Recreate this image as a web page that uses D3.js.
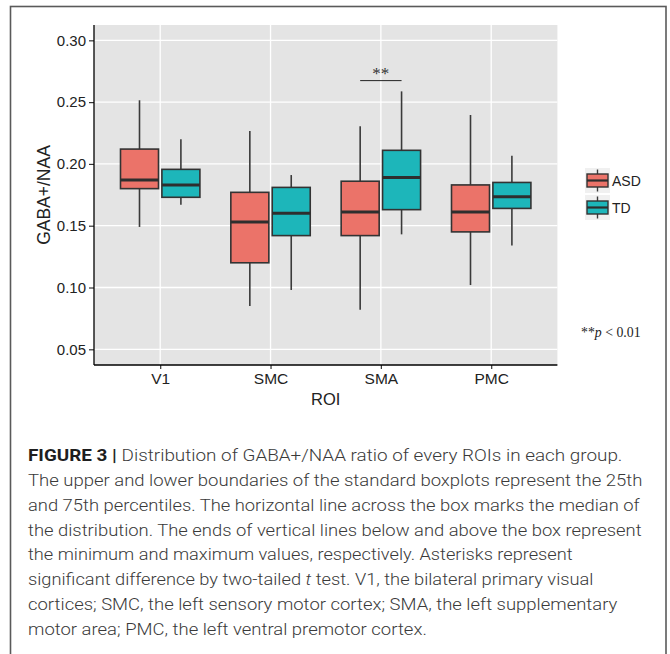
<!DOCTYPE html>
<html>
<head>
<meta charset="utf-8">
<script src="https://cdn.jsdelivr.net/npm/d3@7"></script>
<style>
  html, body { margin: 0; padding: 0; background: #fff; }
  svg { display: block; }
</style>
</head>
<body>
<svg id="chart" width="670" height="654"></svg>
<script>
// ---- data ----
const categories = ["V1", "SMC", "SMA", "PMC"];
const groups = ["ASD", "TD"];
const groupColors = ["#EB7369", "#1DB6BA"];
const asdMin = [0.149, 0.085, 0.082, 0.102];
const asdQ1  = [0.180, 0.120, 0.142, 0.145];
const asdMed = [0.187, 0.153, 0.161, 0.161];
const asdQ3  = [0.212, 0.177, 0.186, 0.183];
const asdMax = [0.2515, 0.2266, 0.2304, 0.2396];
const tdMin  = [0.167, 0.098, 0.143, 0.134];
const tdQ1   = [0.173, 0.142, 0.163, 0.164];
const tdMed  = [0.183, 0.160, 0.189, 0.1735];
const tdQ3   = [0.1956, 0.181, 0.211, 0.185];
const tdMax  = [0.220, 0.191, 0.2587, 0.2067];
const yTicks = [0.05, 0.10, 0.15, 0.20, 0.25, 0.30];
const yTickLabels = ["0.05", "0.10", "0.15", "0.20", "0.25", "0.30"];
const sigCategory = "SMA";
const sigLevel = 0.2674;
const sigLabel = "**";
const yTitle = "GABA+/NAA";
const xTitle = "ROI";
const captionLines = [
  [["FIGURE 3 | ", "b"], ["Distribution of GABA+/NAA ratio of every ROIs in each group.", ""]],
  [["The upper and lower boundaries of the standard boxplots represent the 25th", ""]],
  [["and 75th percentiles. The horizontal line across the box marks the median of", ""]],
  [["the distribution. The ends of vertical lines below and above the box represent", ""]],
  [["the minimum and maximum values, respectively. Asterisks represent", ""]],
  [["significant difference by two-tailed ", ""], ["t", "i"], [" test. V1, the bilateral primary visual", ""]],
  [["cortices; SMC, the left sensory motor cortex; SMA, the left supplementary", ""]],
  [["motor area; PMC, the left ventral premotor cortex.", ""]]
];
const captionWidths = [595, 615, 612, 614, 545, 566, 590, 399];

// ---- build records ----
const boxes = [];
categories.forEach((c, i) => {
  boxes.push({cat: c, grp: "ASD", min: asdMin[i], q1: asdQ1[i], med: asdMed[i], q3: asdQ3[i], max: asdMax[i]});
  boxes.push({cat: c, grp: "TD", min: tdMin[i], q1: tdQ1[i], med: tdMed[i], q3: tdQ3[i], max: tdMax[i]});
});

const svg = d3.select("#chart");
const sans = "Liberation Sans, Arial, sans-serif";

// outer frame
svg.append("rect").attr("x", 10.5).attr("y", 6.5).attr("width", 655.5).attr("height", 700)
  .attr("fill", "#fff").attr("stroke", "#5a5a5a").attr("stroke-width", 1.6);

const panel = {left: 94, right: 557.4, top: 25, bottom: 365};

const y = d3.scaleLinear().domain([0.0373, 0.3124]).range([panel.bottom, panel.top]);
const x = d3.scalePoint().domain(categories).range([panel.left, panel.right]).padding(0.6);
const xSub = d3.scaleBand().domain(groups).range([-39.7, 39.7]).paddingInner(0.082);
const color = d3.scaleOrdinal().domain(groups).range(groupColors);

// panel background
svg.append("rect").attr("x", panel.left).attr("y", panel.top)
  .attr("width", panel.right - panel.left).attr("height", panel.bottom - panel.top)
  .attr("fill", "#E4E4E4");

// grid
const g = svg.append("g");
g.selectAll("line.hg").data(yTicks).join("line")
  .attr("x1", panel.left).attr("x2", panel.right)
  .attr("y1", d => y(d)).attr("y2", d => y(d))
  .attr("stroke", "#fff").attr("stroke-width", 1.3);
g.selectAll("line.vg").data(categories).join("line")
  .attr("y1", panel.top).attr("y2", panel.bottom)
  .attr("x1", d => x(d)).attr("x2", d => x(d))
  .attr("stroke", "#fff").attr("stroke-width", 1.3);

// boxes
const bw = xSub.bandwidth();
const bg = svg.append("g").selectAll("g").data(boxes).join("g")
  .attr("transform", d => `translate(${x(d.cat) + xSub(d.grp)},0)`);
bg.append("line").attr("x1", bw / 2).attr("x2", bw / 2)
  .attr("y1", d => y(d.max)).attr("y2", d => y(d.q3))
  .attr("stroke", "#3a3a3a").attr("stroke-width", 1.6);
bg.append("line").attr("x1", bw / 2).attr("x2", bw / 2)
  .attr("y1", d => y(d.q1)).attr("y2", d => y(d.min))
  .attr("stroke", "#3a3a3a").attr("stroke-width", 1.6);
bg.append("rect").attr("x", 0).attr("width", bw)
  .attr("y", d => y(d.q3)).attr("height", d => y(d.q1) - y(d.q3))
  .attr("fill", d => color(d.grp)).attr("stroke", "#333").attr("stroke-width", 1.6);
bg.append("line").attr("x1", 0).attr("x2", bw)
  .attr("y1", d => y(d.med)).attr("y2", d => y(d.med))
  .attr("stroke", "#2e2e2e").attr("stroke-width", 3);

// significance
const sx1 = x(sigCategory) + xSub("ASD") + bw / 2;
const sx2 = x(sigCategory) + xSub("TD") + bw / 2;
svg.append("line").attr("x1", sx1).attr("x2", sx2)
  .attr("y1", y(sigLevel)).attr("y2", y(sigLevel))
  .attr("stroke", "#222").attr("stroke-width", 1);
svg.append("text").attr("x", (sx1 + sx2) / 2).attr("y", y(sigLevel) - 2)
  .attr("text-anchor", "middle").attr("font-family", "Liberation Serif, serif")
  .attr("font-size", 17).attr("fill", "#333").text(sigLabel);

// axes
const yAxis = svg.append("g").attr("transform", `translate(${panel.left},0)`)
  .call(d3.axisLeft(y).tickValues(yTicks).tickFormat((d, i) => yTickLabels[i]).tickSize(5).tickPadding(3));
yAxis.select(".domain").remove();
yAxis.append("line").attr("x1", 0).attr("x2", 0).attr("y1", panel.top).attr("y2", panel.bottom)
  .attr("stroke", "#000").attr("stroke-width", 1.3);
yAxis.selectAll(".tick line").attr("stroke", "#333").attr("stroke-width", 1.2);
yAxis.selectAll(".tick text").attr("font-family", sans)
  .attr("font-size", 15).attr("fill", "#222");

const xAxis = svg.append("g").attr("transform", `translate(0,${panel.bottom})`)
  .call(d3.axisBottom(x).tickSize(4).tickPadding(4));
xAxis.select(".domain").remove();
xAxis.append("line").attr("x1", panel.left).attr("x2", panel.right).attr("y1", 0).attr("y2", 0)
  .attr("stroke", "#000").attr("stroke-width", 1.3);
xAxis.selectAll(".tick line").attr("stroke", "#333").attr("stroke-width", 1.2);
xAxis.selectAll(".tick text").attr("font-family", sans)
  .attr("font-size", 15.5).attr("fill", "#222");

// axis titles
svg.append("text").attr("x", (panel.left + panel.right) / 2).attr("y", 405)
  .attr("text-anchor", "middle").attr("font-family", sans)
  .attr("font-size", 16.5).attr("fill", "#222").text(xTitle);
svg.append("text").attr("transform", `translate(49.5,${(panel.top + panel.bottom) / 2}) rotate(-90)`)
  .attr("text-anchor", "middle").attr("font-family", sans)
  .attr("font-size", 17.5).attr("fill", "#222").text(yTitle);

// legend
const lg = svg.append("g").attr("transform", "translate(585,168)");
const keySize = 25;
const li = lg.selectAll("g").data(groups).join("g")
  .attr("transform", (d, i) => `translate(0,${i * (keySize + 2)})`);
li.append("rect").attr("width", keySize).attr("height", keySize).attr("fill", "#F0F0F0");
li.append("line").attr("x1", keySize / 2).attr("x2", keySize / 2).attr("y1", 1.5).attr("y2", keySize - 1.5)
  .attr("stroke", "#3a3a3a").attr("stroke-width", 1.4);
li.append("rect").attr("x", 2).attr("y", 6).attr("width", keySize - 4).attr("height", keySize - 12)
  .attr("fill", d => color(d)).attr("stroke", "#333").attr("stroke-width", 1.4);
li.append("line").attr("x1", 2).attr("x2", keySize - 2).attr("y1", keySize / 2).attr("y2", keySize / 2)
  .attr("stroke", "#2e2e2e").attr("stroke-width", 2.2);
li.append("text").attr("x", keySize + 2).attr("y", keySize / 2).attr("dy", "0.36em")
  .attr("font-family", sans).attr("font-size", 14).attr("fill", "#222")
  .text(d => d);

// p-value note
const pn = svg.append("text").attr("x", 581).attr("y", 337)
  .attr("font-family", "Liberation Serif, serif").attr("font-size", 13.8).attr("fill", "#222");
pn.append("tspan").text("**");
pn.append("tspan").attr("font-style", "italic").text("p");
pn.append("tspan").text(" < 0.01");

// caption
const cap = svg.append("g");
captionLines.forEach((parts, i) => {
  const t = cap.append("text").attr("x", 0).attr("y", 0)
    .attr("font-family", "Roboto, Liberation Sans, sans-serif").attr("font-weight", 300)
    .attr("font-size", 16.5).attr("fill", "#3a3a3a");
  parts.forEach(([s, st]) => {
    const ts = t.append("tspan").text(s);
    if (st === "b") ts.attr("font-weight", "bold").attr("fill", "#1e1e1e");
    if (st === "i") ts.attr("font-style", "italic");
  });
  const w = t.node().getComputedTextLength();
  const sx = captionWidths[i] / w;
  t.attr("transform", `translate(28,${461 + i * 24.85}) scale(${sx},1)`);
});
</script>
</body>
</html>
